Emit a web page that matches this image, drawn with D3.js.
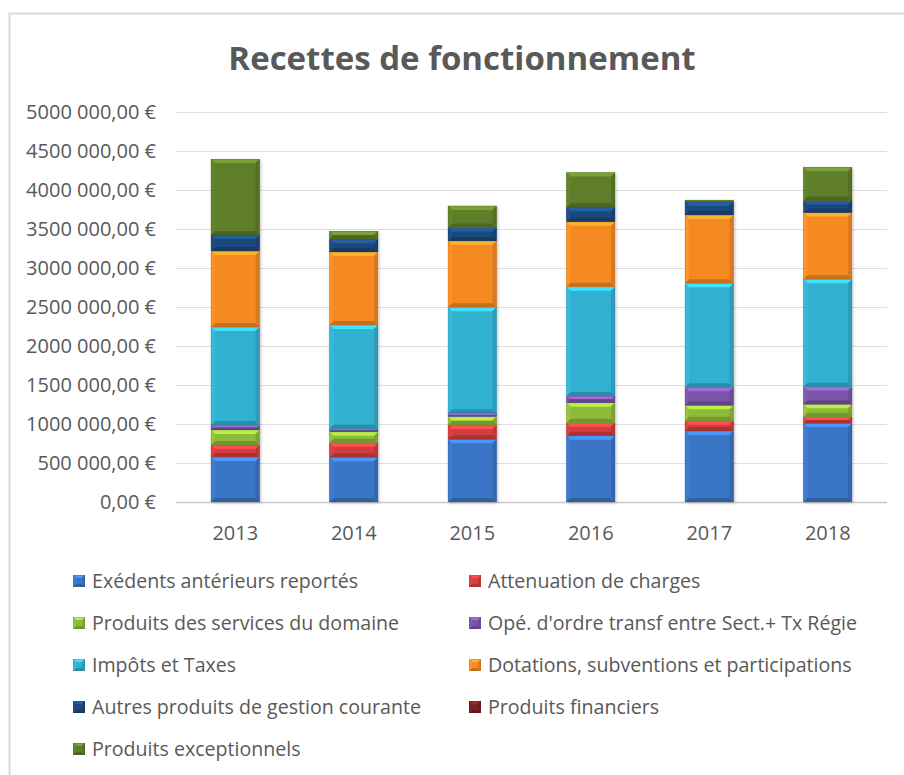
<!DOCTYPE html>
<html>
<head>
<meta charset="utf-8">
<script src="https://cdn.jsdelivr.net/npm/d3@7"></script>
<style>
  body { margin: 0; background: #fff; }
  text { font-family: "Open Sans", sans-serif; fill: #595959; }
</style>
</head>
<body>
<div id="chart"></div>
<script>
var years = ['2013', '2014', '2015', '2016', '2017', '2018'];
var seriesNames = [
    'Exédents antérieurs reportés',
    'Attenuation de charges',
    'Produits des services du domaine',
    "Opé. d'ordre transf entre Sect.+ Tx Régie",
    'Impôts et Taxes',
    'Dotations, subventions et participations',
    'Autres produits de gestion courante',
    'Produits financiers',
    'Produits exceptionnels'
];
var seriesColors = ['#3b76c6', '#d43e3e', '#8fbb3a', '#7a55a8', '#33b0d0',
                    '#f68a24', '#1f497d', '#7c1f1f', '#5f7e2a'];

// values (EUR)
var exedents      = [577000, 573000, 804000, 850000, 910000, 1009000];
var attenuation   = [154000, 187000, 184000, 167000, 132000, 85000];
var services      = [192000, 141000, 107000, 256000, 197000, 159000];
var ope           = [64000, 38000, 43000, 86000, 231000, 226000];
var impots        = [1256000, 1330000, 1359000, 1402000, 1333000, 1377000];
var dotations     = [974000, 936000, 850000, 833000, 876000, 854000];
var autres        = [205000, 163000, 171000, 185000, 171000, 154000];
var financiers    = [500, 400, 300, 300, 200, 200];
var exceptionnels = [974000, 106000, 278000, 444000, 22000, 428000];

var yTicks = [0, 500000, 1000000, 1500000, 2000000, 2500000, 3000000, 3500000, 4000000, 4500000, 5000000];
var yTickLabels = ['0,00 €', '500 000,00 €', '1000 000,00 €', '1500 000,00 €', '2000 000,00 €',
                   '2500 000,00 €', '3000 000,00 €', '3500 000,00 €', '4000 000,00 €',
                   '4500 000,00 €', '5000 000,00 €'];

var allSeries = [exedents, attenuation, services, ope, impots, dotations, autres, financiers, exceptionnels];

var rows = years.map(function(yr, i) {
    var r = {year: yr};
    seriesNames.forEach(function(n, k) { r[n] = allSeries[k][i]; });
    return r;
});

var width = 904, height = 775;
var svg = d3.select('#chart').append('svg')
    .attr('width', width)
    .attr('height', height);

// chart frame
svg.append('rect')
    .attr('x', 9.5).attr('y', 13.5)
    .attr('width', width + 10).attr('height', height + 10)
    .attr('fill', 'none')
    .attr('stroke', '#d9d9d9')
    .attr('stroke-width', 2);

svg.append('text')
    .attr('x', 462).attr('y', 70)
    .attr('text-anchor', 'middle')
    .style('font-size', '33px')
    .style('font-weight', 'bold')
    .text('Recettes de fonctionnement');

var x = d3.scaleBand().domain(years).range([176, 887])
    .paddingInner(0.59).paddingOuter(0.295);
var y = d3.scaleLinear().domain([0, 5000000]).range([502, 112]);

// grid
svg.append('g').selectAll('line')
    .data(yTicks)
    .enter().append('line')
    .attr('x1', 176).attr('x2', 887)
    .attr('y1', function(d) { return Math.round(y(d)) + 0.5; })
    .attr('y2', function(d) { return Math.round(y(d)) + 0.5; })
    .attr('stroke', function(d) { return d == 0 ? '#c8c8c8' : '#dedede'; })
    .attr('stroke-width', function(d) { return d == 0 ? 1.5 : 1; });

svg.append('g').selectAll('text')
    .data(yTicks)
    .enter().append('text')
    .attr('x', 156)
    .attr('y', function(d) { return y(d); })
    .attr('dy', '0.36em')
    .attr('text-anchor', 'end')
    .style('font-size', '20px')
    .text(function(d, i) { return yTickLabels[i]; });

svg.append('g').selectAll('text')
    .data(years)
    .enter().append('text')
    .attr('x', function(d) { return x(d) + x.bandwidth() / 2; })
    .attr('y', 540)
    .attr('text-anchor', 'middle')
    .style('font-size', '20px')
    .text(function(d) { return d; });

// bevelled box like the excel style
function bevel(g, x0, y0, w, h, color, depth) {
    var c = d3.color(color);
    var d = Math.min(depth, h / 2, w / 2);
    g.append('rect')
        .attr('x', x0).attr('y', y0).attr('width', w).attr('height', h)
        .attr('fill', color);
    if (d < 0.5) return;
    var x1 = x0 + w, y1 = y0 + h;
    var faces = [
        [[x0, y0], [x1, y0], [x1 - d, y0 + d], [x0 + d, y0 + d], c.brighter(0.7)],
        [[x0, y1], [x1, y1], [x1 - d, y1 - d], [x0 + d, y1 - d], c.darker(0.6)],
        [[x0, y0], [x0 + d, y0 + d], [x0 + d, y1 - d], [x0, y1], c.brighter(0.15)],
        [[x1, y0], [x1 - d, y0 + d], [x1 - d, y1 - d], [x1, y1], c.darker(0.35)]
    ];
    faces.forEach(function(f) {
        g.append('polygon')
            .attr('points', f.slice(0, 4).map(function(p) { return p.join(','); }).join(' '))
            .attr('fill', f[4]);
    });
    g.append('rect')
        .attr('x', x0 + 0.25).attr('y', y0 + 0.25)
        .attr('width', Math.max(0, w - 0.5)).attr('height', Math.max(0, h - 0.5))
        .attr('fill', 'none')
        .attr('stroke', c.darker(0.8))
        .attr('stroke-opacity', 0.5)
        .attr('stroke-width', 0.5);
}

var defs = svg.append('defs');
var f = defs.append('filter').attr('id', 'shadow')
    .attr('x', '-20%').attr('y', '-5%').attr('width', '140%').attr('height', '110%');
f.append('feDropShadow').attr('dx', 1).attr('dy', 1).attr('stdDeviation', 1.5)
    .attr('flood-color', '#000').attr('flood-opacity', 0.25);

var stack = d3.stack().keys(seriesNames)(rows);

var bars = svg.append('g');
years.forEach(function(yr, i) {
    var col = bars.append('g').attr('filter', 'url(#shadow)');
    stack.forEach(function(layer, k) {
        var s = layer[i];
        var top = y(s[1]), bot = y(s[0]);
        if (bot - top <= 0) return;
        bevel(col, x(yr), top, x.bandwidth(), bot - top, seriesColors[k], 4);
    });
});

// legend
var legend = svg.append('g');
seriesNames.forEach(function(name, k) {
    var row = Math.floor(k / 2), colIdx = k % 2;
    var lx = colIdx == 0 ? 73 : 469;
    var ly = 581 + row * 42;
    var g = legend.append('g');
    bevel(g, lx, ly - 6, 12, 12, seriesColors[k], 3);
    g.append('text')
        .attr('x', lx + 19).attr('y', ly)
        .attr('dy', '0.36em')
        .style('font-size', '19.6px')
        .text(name);
});
</script>
</body>
</html>
